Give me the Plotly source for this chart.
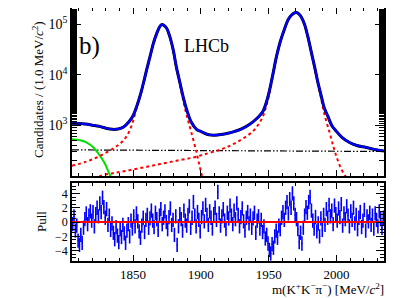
import plotly.graph_objects as go

# ---- data ----
total_m = [1805, 1810, 1815, 1820, 1825, 1830, 1835, 1839, 1843, 1847, 1850, 1853, 1856, 1858, 1860,
           1862.5, 1865, 1867.4, 1869.5, 1871, 1872.5, 1874.8, 1877, 1879.6, 1882, 1884.6, 1887, 1889.5,
           1893, 1896.8, 1900, 1905, 1910, 1915, 1920, 1925, 1930, 1936, 1941, 1945.8, 1948.5, 1950.7,
           1953, 1955.7, 1958.5, 1961.8, 1964.5, 1966.7, 1968.7, 1970.4, 1972.2, 1974, 1976.5, 1978.9,
           1981.3, 1983.8, 1986.3, 1988.8, 1991, 1993.6, 1996.5, 1999.8, 2004, 2009.6, 2015, 2021.8,
           2028, 2035]
total_v = [1100, 1090, 1060, 1010, 960, 880, 835, 850, 930, 1180, 1550, 2500, 4600, 7500, 12500,
           22800, 42000, 65000, 88000, 98000, 96000, 83000, 58000, 31000, 14000, 6900, 3600, 2060,
           1150, 835, 760, 660, 640, 660, 700, 760, 850, 1050, 1350, 1910, 3000, 5080,
           10000, 22800, 45000, 82500, 125000, 150000, 166000, 170000, 160000, 139000, 98000, 56000,
           29000, 14500, 7000, 3750, 2200, 1520, 1000, 770, 580, 458, 400, 366,
           335, 312]

dp_m = [1805, 1815, 1825, 1835, 1841, 1845.4, 1849, 1851.5, 1853.9, 1856, 1858, 1860, 1862.5, 1865,
        1867.4, 1869.5, 1871, 1872.5, 1874.8, 1877, 1879.6, 1882, 1884.6, 1887, 1889.5, 1893, 1896.8,
        1899, 1900.5, 1902]
dp_v = [160, 190, 245, 345, 450, 617, 1000, 1700, 3000, 4400, 7300, 12300, 22500, 41500,
        64500, 87500, 97500, 95500, 82500, 57500, 30500, 13500, 6300, 3100, 1600, 720, 291,
        160, 110, 80]

ds_m = [1822, 1826, 1835, 1845.3, 1858, 1869.9, 1882, 1894.3, 1905, 1914, 1920, 1926, 1932, 1938.5,
        1942.5, 1945.8, 1948, 1949.5, 1951, 1953, 1955.7, 1958.5, 1961.8, 1964.5, 1966.7, 1968.7,
        1970.4, 1972.2, 1974, 1976.5, 1978.9, 1981.3, 1983.8, 1986.3, 1988.8, 1991, 1994.9, 1997.5,
        1999.8, 2003.5, 2007, 2009]
ds_v = [80, 100, 113, 127, 148, 172, 200, 232, 280, 330, 380, 458, 570, 770,
        1050, 1520, 2300, 3240, 4700, 9200, 22000, 44500, 82000, 124500, 149500, 165500,
        169500, 159500, 138500, 97500, 55500, 28500, 14000, 6500, 3240, 1700, 720, 400,
        250, 137, 95, 75]

comb_m = [1805, 2035]
comb_v = [328, 305]

prc_m = [1805, 1811, 1815.9, 1820.8, 1825.7, 1829.4, 1833.1, 1835]
prc_v = [532, 508, 458, 366, 250, 172, 101, 80]

pull_m = [1805.5 + i for i in range(230)]
pull_v = [
    -0.3, 0.8, -1.2, -0.5, -2.6, -3.2, -1.8, -2.9, -0.8, 0.4,
    1.2, -0.3, 0.9, 1.5, 0.2, 1.4, -0.6, 1.1, 2.0, 0.8,
    2.6, 1.4, 3.4, 2.1, 0.6, 1.8, -0.4, 0.9, -1.1, -0.2,
    -1.5, -2.4, -0.7, -1.9, -2.8, -1.0, -2.1, -0.4, -1.6, -2.9,
    -1.2, -0.3, -2.0, 0.2, -0.9, 0.8, -0.6, 1.2, 0.1, -1.3,
    -2.2, -0.5, 0.6, -1.4, 0.3, 1.0, -0.8, 0.5, 1.6, 0.2,
    -0.7, 1.3, 0.4, -1.1, 0.9, 1.8, -0.3, 0.6, 1.5, 0.0,
    -1.0, 0.7, 1.9, -0.4, 0.3, -1.8, 0.8, -3.2, -0.6, 1.1,
    0.4, -1.2, 1.6, 0.2, -0.5, 1.0, 2.2, -0.8, 0.6, 2.8,
    0.9, -0.6, 1.4, 0.3, -1.3, 0.7, 1.9, 0.1, 2.4, 1.0,
    -0.4, 1.5, 0.6, -0.9, 1.1, 2.0, 0.3, 4.2, 1.2, -0.5,
    0.8, 1.8, 0.2, -1.0, 1.3, 0.5, 2.3, 0.9, -0.3, 1.6,
    0.4, 2.6, 1.0, -0.6, 0.7, 1.9, 0.1, -1.2, 0.6, 1.4,
    -0.2, 0.9, -0.8, 0.5, 1.3, -1.5, 0.2, 0.8, -0.9, 0.3,
    -1.4, -0.6, -2.3, -1.8, -3.0, -3.9, -4.4, -3.1, -3.6, -2.0,
    -1.2, -2.2, -0.5, -1.0, 0.6, 1.4, 0.3, 2.0, 2.8, 1.2,
    3.2, 2.0, 4.0, 2.6, 1.0, 0.4, -1.0, -2.8, -1.5, -3.0,
    -0.8, 0.9, 2.1, 1.3, 2.8, 3.5, 1.6, 0.2, -0.9, 0.7,
    -1.3, -0.2, -2.0, 0.5, -1.1, 1.0, -0.4, 1.8, 0.6, 2.4,
    0.8, 1.6, -0.3, 2.3, 1.1, 0.2, 1.9, 0.7, 2.5, -0.5,
    1.2, 0.4, 2.2, 0.9, -0.6, 1.5, 0.3, 2.0, -0.2, 1.0,
    -1.0, 0.6, 1.4, -0.7, 0.2, 1.7, -1.2, 0.8, 0.1, 1.3,
    -0.4, 0.9, -0.9, 1.2, 0.3, -0.6, 1.5, 0.4, -0.8, 0.6,
]
pull_err = [1.0] * len(pull_v)

x_ticks = [1850, 1900, 1950, 2000]
y_ticks = [1e3, 1e4, 1e5]
y_ticktext = ["10<sup>3</sup>", "10<sup>4</sup>", "10<sup>5</sup>"]
pull_ticks = [-4, -2, 0, 2, 4]

FONT = "Liberation Serif"

fig = go.Figure()

# components
fig.add_trace(go.Scatter(x=comb_m, y=comb_v, mode="lines", xaxis="x", yaxis="y",
                         line=dict(color="black", width=1.2, dash="7px,2px,1.5px,2px,1.5px,2px")))
fig.add_trace(go.Scatter(x=prc_m, y=prc_v, mode="lines", xaxis="x", yaxis="y", line_shape="spline",
                         line=dict(color="#00e000", width=2)))
fig.add_trace(go.Scatter(x=dp_m, y=dp_v, mode="lines", xaxis="x", yaxis="y", line_shape="spline",
                         line=dict(color="#ff0000", width=2, dash="dot")))
fig.add_trace(go.Scatter(x=ds_m, y=ds_v, mode="lines", xaxis="x", yaxis="y", line_shape="spline",
                         line=dict(color="#ff0000", width=2, dash="dot")))
# data-like dark outline and total fit
fig.add_trace(go.Scatter(x=total_m, y=total_v, mode="lines", xaxis="x", yaxis="y", line_shape="spline",
                         line=dict(color="black", width=3.0)))
fig.add_trace(go.Scatter(x=total_m, y=total_v, mode="lines", xaxis="x", yaxis="y", line_shape="spline",
                         line=dict(color="#0000ff", width=2.2)))

# pulls
fig.add_trace(go.Scatter(x=pull_m, y=pull_v, mode="markers", xaxis="x2", yaxis="y2",
                         marker=dict(color="#0000ff", size=1.5),
                         error_y=dict(type="data", array=pull_err, visible=True, color="#0000ff",
                                      thickness=1.6, width=0)))
fig.add_trace(go.Scatter(x=[1805, 2035], y=[0, 0], mode="lines", xaxis="x2", yaxis="y2",
                         line=dict(color="#ff0000", width=2)))

axis_common = dict(showline=True, linecolor="black", linewidth=1.8, mirror="ticks",
                   ticks="inside", tickcolor="black", showgrid=False, zeroline=False, automargin=False)

# the page body adds an 8 px offset; the figure is sized/margined to compensate
fig.update_layout(
    width=401, height=290,
    margin=dict(l=64, r=25, t=0, b=37, autoexpand=False),
    paper_bgcolor="white", plot_bgcolor="white",
    showlegend=False,
    font=dict(family=FONT, color="black", size=13),
    xaxis=dict(domain=[0, 1], anchor="y", range=[1805, 2035], tickvals=x_ticks, showticklabels=False,
               ticklen=6, tickwidth=1.2,
               minor=dict(ticks="inside", dtick=10, tick0=1800, ticklen=3, tickcolor="black", tickwidth=1),
               **axis_common),
    yaxis=dict(domain=[0.336, 1], anchor="x", type="log", range=[2.0, 5.32],
               tickvals=y_ticks, ticktext=y_ticktext, ticklen=9, tickwidth=1.2,
               tickfont=dict(size=14, family=FONT),
               minor=dict(ticks="inside", ticklen=5, tickcolor="black", tickwidth=1),
               **axis_common),
    xaxis2=dict(domain=[0, 1], anchor="y2", range=[1805, 2035], tickvals=x_ticks, matches="x",
                ticklen=6, tickwidth=1.2, tickfont=dict(size=13, family=FONT),
                minor=dict(ticks="inside", dtick=10, tick0=1800, ticklen=3, tickcolor="black", tickwidth=1),
                **axis_common),
    yaxis2=dict(domain=[0, 0.308], anchor="x2", range=[-5.45, 5.45], tickvals=pull_ticks,
                ticklen=8, tickwidth=1.2, tickfont=dict(size=12, family=FONT),
                minor=dict(ticks="inside", dtick=0.5, tick0=0, ticklen=4, tickcolor="black", tickwidth=1),
                **axis_common),
)

def px2paper_x(px):
    return (px - 72) / 312.0

def px2paper_y(py):
    return (261 - py) / 253.0

def note(px, py, text, size, angle=0, xanchor="center"):
    fig.add_annotation(x=px2paper_x(px), y=px2paper_y(py), xref="paper", yref="paper",
                       xanchor=xanchor, yanchor="middle", text=text, textangle=angle,
                       showarrow=False, font=dict(size=size, family=FONT, color="black"))

note(38, 90, "Candidates / (1.0 MeV/<i>c</i><sup>2</sup>)", 13, angle=-90)
note(41, 222, "Pull", 13, angle=-90)
note(386, 288.5, "m(K<sup>+</sup>K<sup>−</sup>π<sup>−</sup>) [MeV/<i>c</i><sup>2</sup>]", 13, xanchor="right")
note(77, 46, "b)", 25, xanchor="left")
note(206, 46, "LHCb", 18)

fig.write_html("out.html")
